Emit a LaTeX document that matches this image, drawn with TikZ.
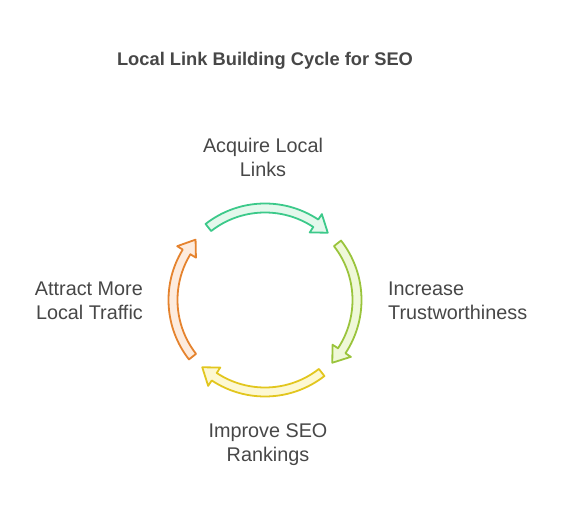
\documentclass[tikz,border=0pt]{standalone}
\usepackage{fontspec}
\setmainfont{Liberation Sans}
\begin{document}
\begin{tikzpicture}[x=1pt,y=-1pt,
  lbl/.style={font=\fontsize{19.8}{24}\selectfont, text=txtgray, inner sep=0pt},
  ttl/.style={font=\bfseries\fontsize{18.3}{20}\selectfont, text=txtgray, inner sep=0pt},
  cyc/.style={line width=1.8pt, line join=round}]
\definecolor{txtgray}{HTML}{474747}
\definecolor{gS}{HTML}{3CC98A}\definecolor{gF}{HTML}{E4F8EC}
\definecolor{lS}{HTML}{9AC43C}\definecolor{lF}{HTML}{EFF8D8}
\definecolor{yS}{HTML}{E2C61E}\definecolor{yF}{HTML}{FDF8D2}
\definecolor{oS}{HTML}{E5832E}\definecolor{oF}{HTML}{FDEBDD}
\useasboundingbox (0,0) rectangle (566,518);
\coordinate (C) at (265,300);
\newcommand{\cycarrow}[4]{%
  \pgfmathsetmacro{\aS}{-(#1)}%
  \pgfmathsetmacro{\aE}{-(#2)}%
  \pgfmathsetmacro{\aH}{-(#2)-9.5}%
  \draw[cyc, draw=#3, fill=#4]
    ([shift={(C)}]\aS:96.5) arc[start angle=\aS, end angle=\aH, radius=96.5]
    -- ([shift={(C)}]\aH:103) -- ([shift={(C)}]\aE:92) -- ([shift={(C)}]\aH:81)
    -- ([shift={(C)}]\aH:87.5) arc[start angle=\aH, end angle=\aS, radius=87.5] -- cycle;}
\cycarrow{128}{47}{gS}{gF}
\cycarrow{38}{-43}{lS}{lF}
\cycarrow{-52}{-133}{yS}{yF}
\cycarrow{-142}{-221}{oS}{oF}
\node[ttl] (title) at (265,61) {Local Link Building Cycle for SEO};
\node[lbl, align=center] (acq) at (263,157) {Acquire Local\\Links};
\node[lbl, align=left, anchor=west] (inc) at (388,301) {Increase\\Trustworthiness};
\node[lbl, align=center] (imp) at (268,445) {Improve SEO\\Rankings};
\node[lbl, align=right, anchor=east] (att) at (143,301) {Attract More\\Local Traffic};
\end{tikzpicture}
\end{document}
